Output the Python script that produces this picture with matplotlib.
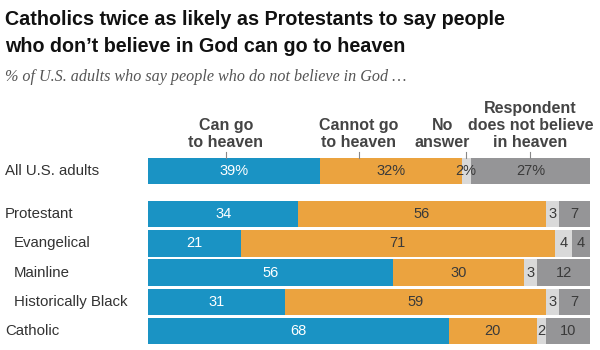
import matplotlib.pyplot as plt
from matplotlib.transforms import blended_transform_factory
import numpy as np

rows = ["All U.S. adults", "Protestant", "Evangelical", "Mainline",
        "Historically Black", "Catholic"]
indented = [False, False, True, True, True, False]
can_go = [39, 34, 21, 56, 31, 68]
cannot_go = [32, 56, 71, 30, 59, 20]
no_answer = [2, 3, 4, 3, 3, 2]
no_heaven = [27, 7, 4, 12, 7, 10]
headers = ["Can go\nto heaven", "Cannot go\nto heaven", "No\nanswer",
           "Respondent\ndoes not believe\nin heaven"]

colors = ["#1a93c4", "#eba33f", "#d9d9d9", "#959597"]
text_colors = ["white", "#3a3a3a", "#3a3a3a", "#3a3a3a"]

narrow = ["Liberation Sans Narrow", "Liberation Sans", "DejaVu Sans"]
plain = ["Liberation Sans", "DejaVu Sans"]

W, H = 600, 350
fig = plt.figure(figsize=(6, 3.5), dpi=100)

def fy(py):
    return 1 - py / H

# axes spans pixel x 148..590, y 158..344
ax = fig.add_axes([148 / W, fy(344), 442 / W, (344 - 158) / H])
ypos = np.array([0, 1.48, 2.48, 3.48, 4.48, 5.48])
ax.set_xlim(0, 100)
ax.set_ylim(5.93, -0.45)
ax.axis("off")

data = np.array([can_go, cannot_go, no_answer, no_heaven], dtype=float)
totals = data.sum(axis=0)
scaled = data / totals * 100
left = np.zeros(len(rows))
for k in range(4):
    ax.barh(ypos, scaled[k], left=left, height=0.9, color=colors[k], linewidth=0)
    for i in range(len(rows)):
        v = int(data[k, i])
        lab = f"{v}%" if i == 0 else f"{v}"
        ax.text(left[i] + scaled[k, i] / 2, ypos[i], lab, ha="center", va="center",
                color=text_colors[k], fontsize=10.5, family=plain)
    left += scaled[k]

# row labels
px = 100 / 442
for i, r in enumerate(rows):
    x = -(148 - (14 if indented[i] else 5)) * px
    ax.text(x, ypos[i], r, ha="left", va="center",
            fontsize=10.8, color="#333333", family=plain)

# headers with ticks
tr = blended_transform_factory(ax.transData, fig.transFigure)
hx = [17.6, 47.7, 71.9, 86.5]
has = ["center", "center", "right", "center"]
htx = [17.6, 47.7, 71.9 + 1.0, 86.5]
for k in range(4):
    ax.text(htx[k], fy(150), headers[k], ha=has[k], va="bottom", transform=tr,
            fontsize=11.5, fontweight="bold", color="#444444", family=narrow,
            linespacing=1.15, multialignment="center")
    ax.plot([hx[k], hx[k]], [fy(152), fy(158)], transform=tr, color="#888888",
            lw=0.8, clip_on=False)

fig.text(5 / W, fy(25), "Catholics twice as likely as Protestants to say people",
         ha="left", va="baseline", fontsize=14.2, fontweight="bold",
         color="#111111", family=narrow)
fig.text(5 / W, fy(52), "who don\u2019t believe in God can go to heaven",
         ha="left", va="baseline", fontsize=14.2, fontweight="bold",
         color="#111111", family=narrow)
fig.text(5 / W, fy(77), "% of U.S. adults who say people who do not believe in God \u2026",
         ha="left", va="center", fontsize=11.6, style="italic", color="#555555",
         family=["Liberation Serif", "DejaVu Serif"])

fig.savefig("out.png", dpi=100)
